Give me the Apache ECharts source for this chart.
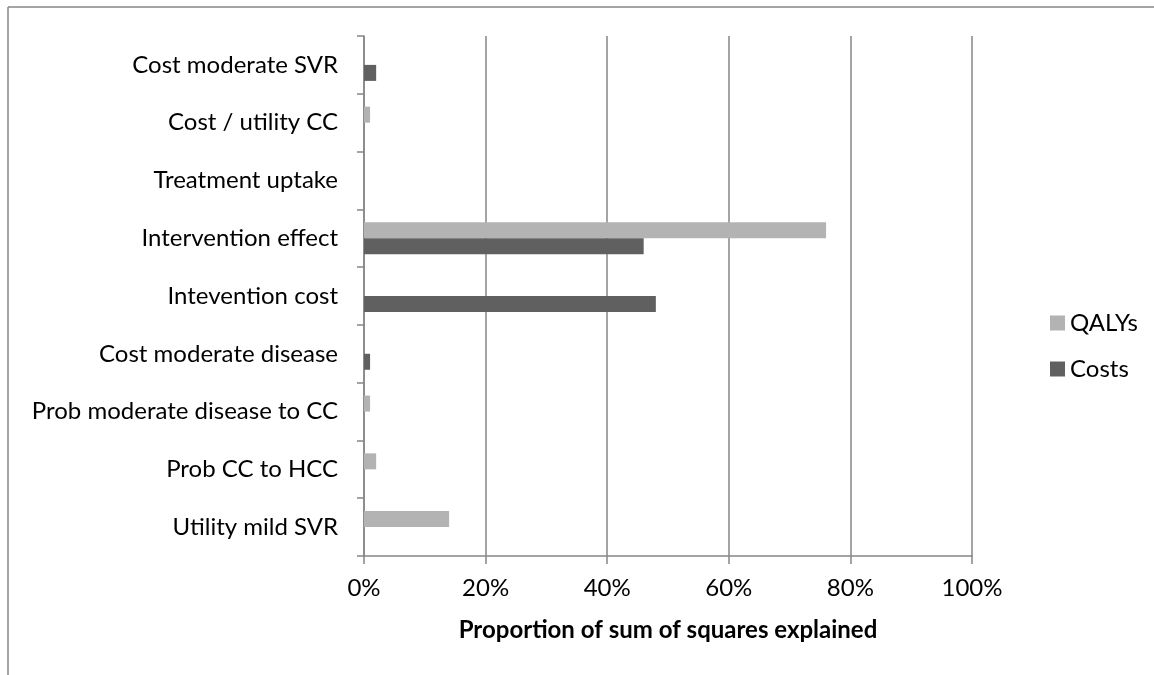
<!DOCTYPE html>
<html>
<head>
<meta charset="utf-8">
<script src="https://cdn.jsdelivr.net/npm/echarts@6/dist/echarts.min.js"></script>
<style>
html,body{margin:0;padding:0;background:#fff;}
#chart{width:1154px;height:675px;}
</style>
</head>
<body>
<div id="chart"></div>
<script>
const categories = ['Utility mild SVR', 'Prob CC to HCC', 'Prob moderate disease to CC', 'Cost moderate disease', 'Intevention cost', 'Intervention effect', 'Treatment uptake', 'Cost / utility CC', 'Cost moderate SVR'];
const qalys = [14, 2, 1, 0, 0, 76, 0, 1, 0];
const costs = [0, 0, 0, 1, 48, 46, 0, 0, 2];
const xTicks = [0, 20, 40, 60, 80, 100];

const FONT = 'Lato';
const FS = 24;
const GRAY = '#868686';

const chart = echarts.init(document.getElementById('chart'));
chart.setOption({
  animation: false,
  backgroundColor: '#fff',
  textStyle: { fontFamily: FONT },
  graphic: [
    { type: 'line', shape: { x1: 8, y1: 7, x2: 1154, y2: 7 }, style: { stroke: GRAY, lineWidth: 1.5 } },
    { type: 'line', shape: { x1: 8, y1: 7, x2: 8, y2: 675 }, style: { stroke: GRAY, lineWidth: 1.5 } }
  ],
  grid: { left: 364, right: 182, top: 36, bottom: 119, containLabel: false },
  legend: {
    orient: 'vertical',
    left: 1045,
    top: 306,
    itemWidth: 15,
    itemHeight: 15,
    itemGap: 22,
    icon: 'rect',
    textStyle: { fontFamily: FONT, fontSize: FS, color: '#000' },
    data: ['QALYs', 'Costs']
  },
  xAxis: {
    type: 'value',
    min: xTicks[0],
    max: xTicks[xTicks.length - 1],
    interval: 20,
    name: 'Proportion of sum of squares explained',
    nameLocation: 'middle',
    nameGap: 62,
    nameTextStyle: { fontFamily: FONT, fontSize: FS, fontWeight: 'bold', color: '#000' },
    axisLine: { show: true, lineStyle: { color: GRAY, width: 1.5 } },
    axisTick: { show: true, length: 8, lineStyle: { color: GRAY, width: 1.5 } },
    axisLabel: { formatter: '{value}%', fontFamily: FONT, fontSize: FS, color: '#000', margin: 20 },
    splitLine: { show: true, lineStyle: { color: GRAY, width: 1.5 } }
  },
  yAxis: {
    type: 'category',
    data: categories,
    axisLine: { show: true, lineStyle: { color: GRAY, width: 1.5 } },
    axisTick: { show: true, length: 7, alignWithLabel: false, lineStyle: { color: GRAY, width: 1.5 } },
    axisLabel: { fontFamily: FONT, fontSize: FS, color: '#000', margin: 26 },
    splitLine: { show: false }
  },
  series: [
    { name: 'QALYs', type: 'bar', data: qalys, barWidth: 16, barGap: '0%', itemStyle: { color: '#b3b3b3' } },
    { name: 'Costs', type: 'bar', data: costs, barWidth: 16, barGap: '0%', itemStyle: { color: '#606060' } }
  ]
});
</script>
</body>
</html>
